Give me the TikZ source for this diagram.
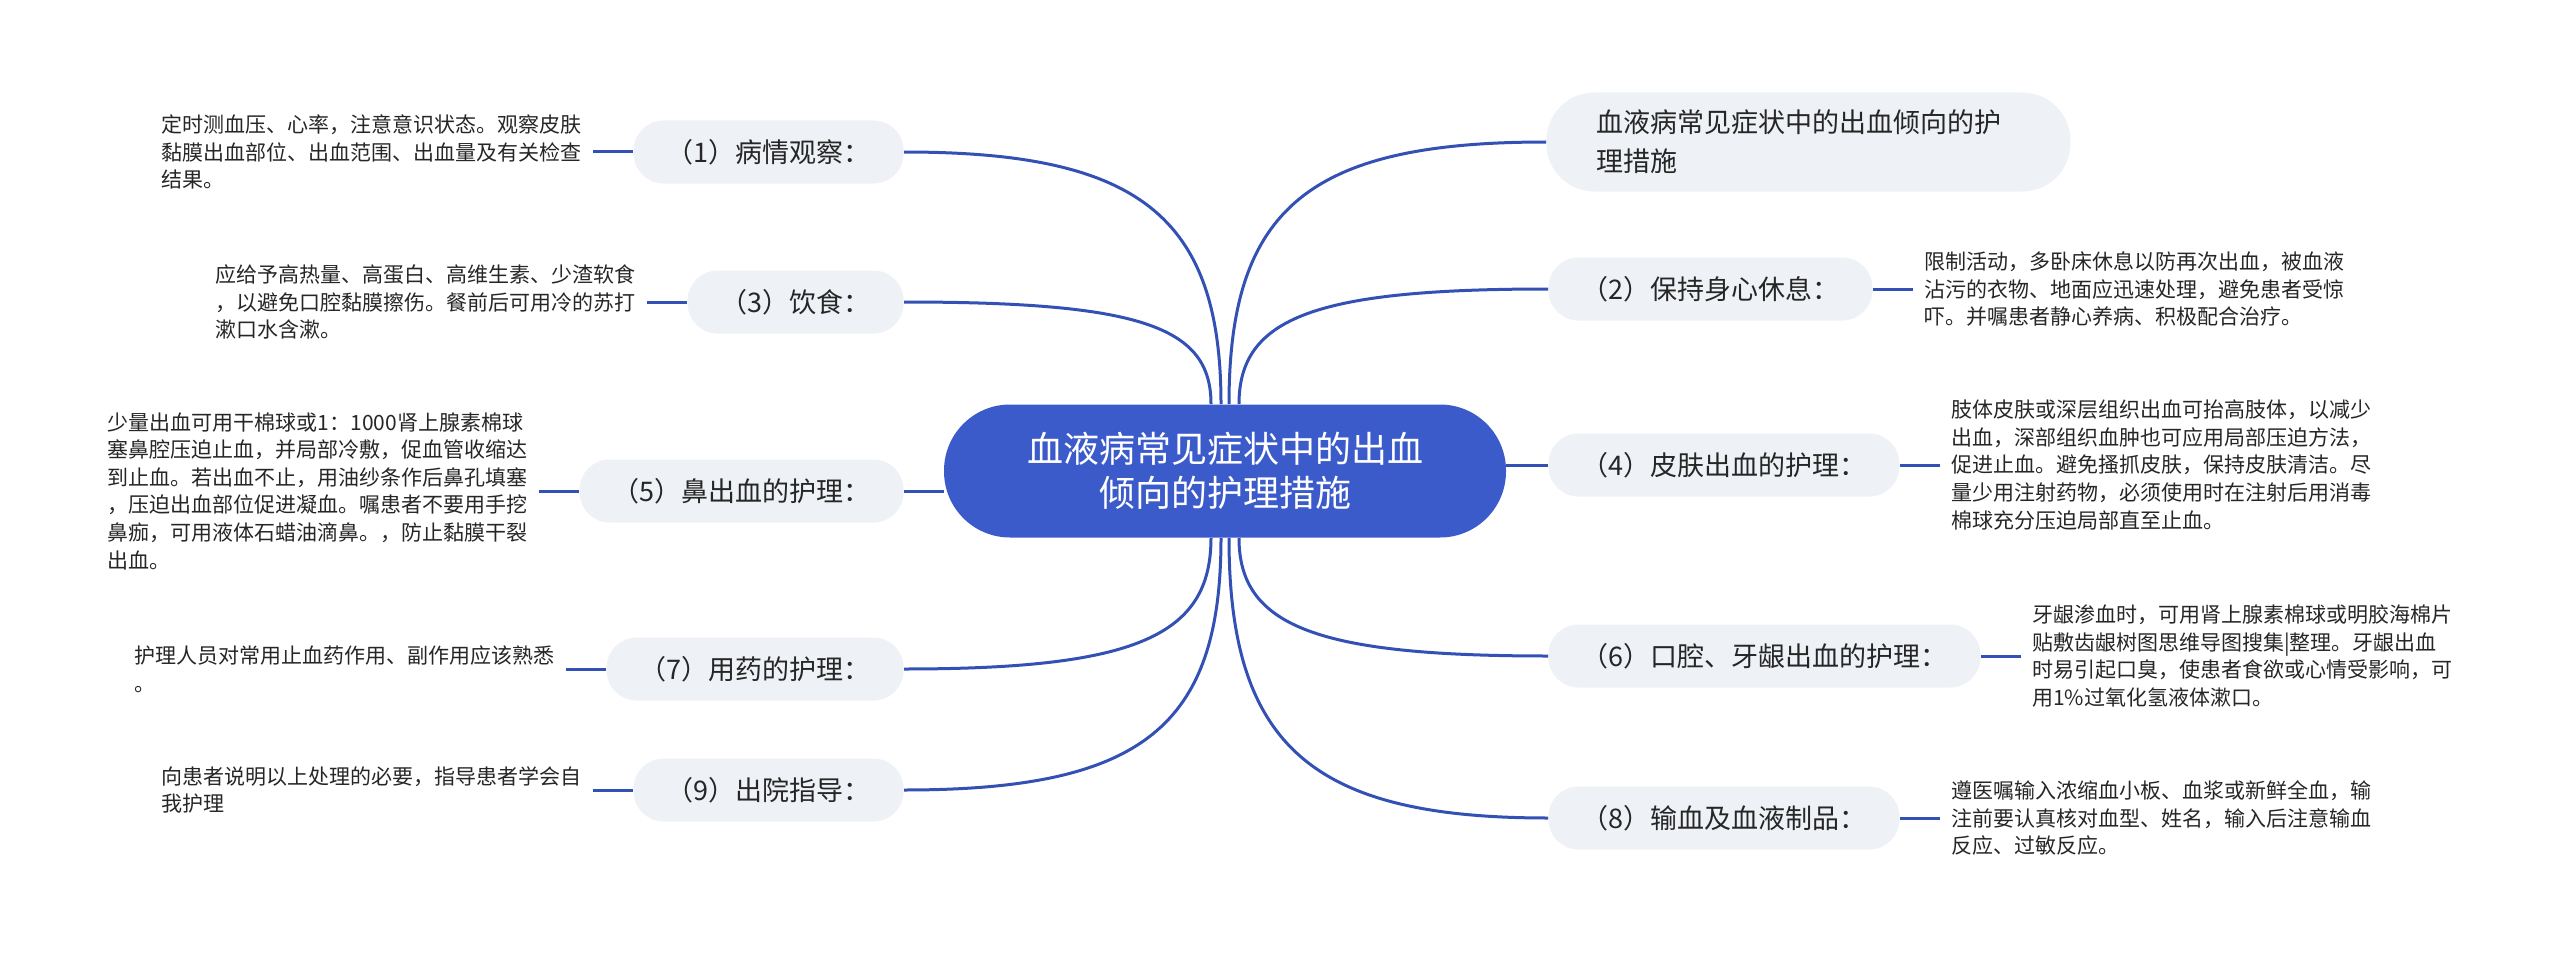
\documentclass[tikz,border=0pt]{standalone}
\usepackage{fontspec}
\setmainfont{Noto Sans CJK SC}
\usetikzlibrary{positioning}
\definecolor{rootblue}{HTML}{3C5BCB}
\definecolor{linkblue}{HTML}{3350B5}
\definecolor{pillgray}{HTML}{EEF1F5}
\definecolor{inkgray}{HTML}{262626}

\begin{document}
\begin{tikzpicture}[x=0.5pt,y=-0.5pt,
    pill/.style={fill=pillgray,rounded corners=15pt,minimum height=31.5pt,inner xsep=16.5pt,inner ysep=0pt,text=inkgray,font=\fontsize{13.5}{16}\selectfont},
    leaf/.style={align=left,inner xsep=5.5pt,inner ysep=0pt,text=inkgray,font=\fontsize{10.5}{13.8}\selectfont},
    link/.style={draw=linkblue,line width=1.5pt}]

      \useasboundingbox (0,0) rectangle (2560,963);

      \node[fill=rootblue,text=white,rounded corners=33pt,minimum width=281pt,minimum height=66.5pt,align=center,font=\fontsize{18}{22}\selectfont] (c) at (1225,471) {血液病常见症状中的出血\\倾向的护理措施};

      \begin{scope}[every node/.style={pill,anchor=east}]
        \node (p1) at (904,152) {（1）病情观察：};
        \node (p3) at (904,302) {（3）饮食：};
        \node (p5) at (904,491) {（5）鼻出血的护理：};
        \node (p7) at (904,669) {（7）用药的护理：};
        \node (p9) at (904,790) {（9）出院指导：};
      \end{scope}

      \begin{scope}[every node/.style={pill,anchor=west}]
        \node[align=left,text width=212pt,inner xsep=25pt,minimum height=49.5pt,rounded corners=24pt,font=\fontsize{13.5}{19.5}\selectfont] (p0) at (1546,142) {血液病常见症状中的出血倾向的护\\理措施};
        \node (p2) at (1548,289) {（2）保持身心休息：};
        \node (p4) at (1548,465) {（4）皮肤出血的护理：};
        \node (p6) at (1548,656) {（6）口腔、牙龈出血的护理：};
        \node (p8) at (1548,818) {（8）输血及血液制品：};
      \end{scope}

      \begin{scope}[every node/.style={leaf}]
        \node[left=20pt of p1] (l1) {定时测血压、心率，注意意识状态。观察皮肤\\黏膜出血部位、出血范围、出血量及有关检查\\结果。};
        \node[left=20pt of p3] (l3) {应给予高热量、高蛋白、高维生素、少渣软食\\，以避免口腔黏膜擦伤。餐前后可用冷的苏打\\漱口水含漱。};
        \node[left=20pt of p5] (l5) {少量出血可用干棉球或1：1000肾上腺素棉球\\塞鼻腔压迫止血，并局部冷敷，促血管收缩达\\到止血。若出血不止，用油纱条作后鼻孔填塞\\，压迫出血部位促进凝血。嘱患者不要用手挖\\鼻痂，可用液体石蜡油滴鼻。，防止黏膜干裂\\出血。};
        \node[left=20pt of p7] (l7) {护理人员对常用止血药作用、副作用应该熟悉\\。};
        \node[left=20pt of p9] (l9) {向患者说明以上处理的必要，指导患者学会自\\我护理};
        \node[right=20pt of p2] (l2) {限制活动，多卧床休息以防再次出血，被血液\\沾污的衣物、地面应迅速处理，避免患者受惊\\吓。并嘱患者静心养病、积极配合治疗。};
        \node[right=20pt of p4] (l4) {肢体皮肤或深层组织出血可抬高肢体，以减少\\出血，深部组织血肿也可应用局部压迫方法，\\促进止血。避免搔抓皮肤，保持皮肤清洁。尽\\量少用注射药物，必须使用时在注射后用消毒\\棉球充分压迫局部直至止血。};
        \node[right=20pt of p6] (l6) {牙龈渗血时，可用肾上腺素棉球或明胶海棉片\\贴敷齿龈树图思维导图搜集|整理。牙龈出血\\时易引起口臭，使患者食欲或心情受影响，可\\用1\%过氧化氢液体漱口。};
        \node[right=20pt of p8] (l8) {遵医嘱输入浓缩血小板、血浆或新鲜全血，输\\注前要认真核对血型、姓名，输入后注意输血\\反应、过敏反应。};
      \end{scope}

      \begin{scope}[every path/.style={link}]
        \draw ([xshift=-2pt]c.north) .. controls +(0,-190) and +(232,0) .. (p1.east);
        \draw ([xshift=-7pt]c.north) .. controls +(0,-77) and +(238,0) .. (p3.east);
        \draw ([xshift=2pt]c.north) .. controls +(0,-197) and +(-236,0) .. (p0.west);
        \draw ([xshift=7pt]c.north) .. controls +(0,-87) and +(-232,0) .. (p2.west);
        \draw ([xshift=-7pt]c.south) .. controls +(0,98) and +(232,0) .. (p7.east);
        \draw ([xshift=-2pt]c.south) .. controls +(0,189) and +(238,0) .. (p9.east);
        \draw ([xshift=7pt]c.south) .. controls +(0,89) and +(-230,0) .. (p6.west);
        \draw ([xshift=2pt]c.south) .. controls +(0,210) and +(-234,0) .. (p8.west);
        \draw (p5.east) -- (p5.east -| c.west);
        \draw (p4.west) -- (p4.west -| c.east);
        \draw (p1.west) -- (l1.east);
        \draw (p3.west) -- (l3.east);
        \draw (p5.west) -- (l5.east);
        \draw (p7.west) -- (l7.east);
        \draw (p9.west) -- (l9.east);
        \draw (p2.east) -- (l2.west);
        \draw (p4.east) -- (l4.west);
        \draw (p6.east) -- (l6.west);
        \draw (p8.east) -- (l8.west);
      \end{scope}

    \end{tikzpicture}
\end{document}
